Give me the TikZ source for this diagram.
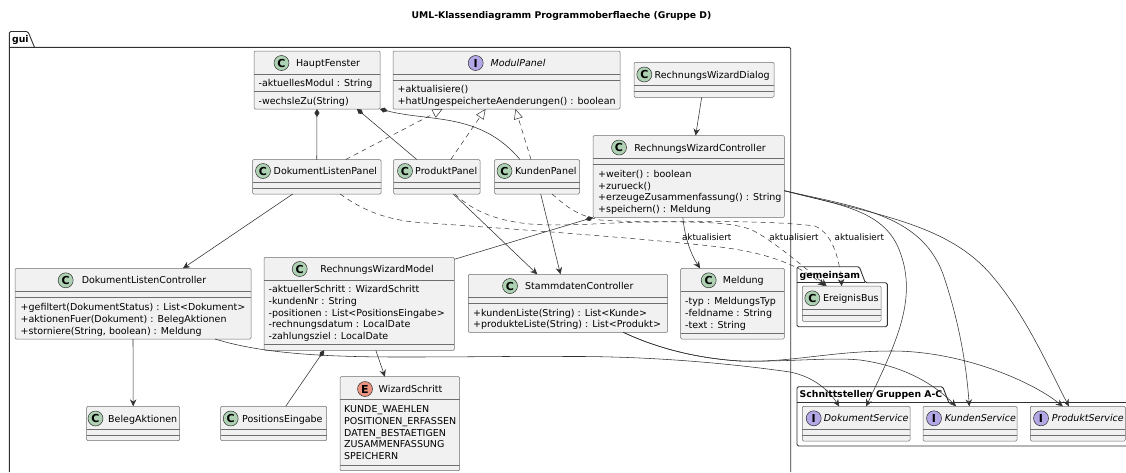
\documentclass[tikz,border=0pt]{standalone}
\usepackage{fontspec}
\setmainfont{DejaVu Sans}
\usetikzlibrary{arrows.meta}
\definecolor{linecol}{HTML}{303030}
\definecolor{boxfill}{HTML}{F1F1F1}
\definecolor{iconc}{HTML}{ADD1B2}
\definecolor{iconi}{HTML}{B4A7E5}
\definecolor{icone}{HTML}{EB937F}
\newcommand{\txtfont}{\fontsize{9.5}{10}\selectfont}
\tikzset{
    classbox/.style={draw=linecol!70, fill=boxfill, line width=.5pt, rounded corners=1.2pt, inner sep=0, outer sep=0, anchor=north west},
    divider/.style={draw=linecol!70, line width=.5pt},
    icon/.style={circle, draw=linecol, line width=.5pt, minimum size=15pt, inner sep=0, font=\fontsize{11}{11}\selectfont\bfseries},
    classname/.style={inner sep=0, text height=8pt, text depth=1pt, font=\txtfont},
    member/.style={classname, anchor=west},
    lefttitle/.style={classname, anchor=west},
    itname/.style={font=\txtfont\itshape},
    pkgline/.style={draw=linecol, line width=.9pt, rounded corners=1.5pt},
    pkgname/.style={inner sep=0, anchor=west, text height=8pt, text depth=2pt, font=\fontsize{9.3}{10}\selectfont\bfseries},
    dep/.style={draw=linecol, line width=.55pt, -{Stealth[length=7pt,width=6.5pt,inset=2.5pt]}},
    comp/.style={draw=linecol, line width=.55pt, {Diamond[length=8pt,width=5pt]}-},
    real/.style={draw=linecol, line width=.5pt, dash pattern=on 5pt off 4pt, -{Triangle[open,length=10pt,width=9pt,fill=white]}},
    use/.style={draw=linecol, line width=.5pt, dash pattern=on 5pt off 4pt, -{Stealth[length=7pt,width=6.5pt,inset=2.5pt]}},
    linklabel/.style={inner sep=0, font=\fontsize{8.8}{9}\selectfont}
}
\newcommand{\umlbox}[7]{%
    \node[classbox, minimum width={(#4-#2)*1pt}, minimum height={(#5-#3)*1pt}] (#1) at (#2,#3) {};
    \draw[divider] (#2,#6) -- (#4,#6);
    \draw[divider] (#2,#7) -- (#4,#7);
}
\begin{document}
\begin{tikzpicture}[x=1pt,y=-1pt]
    \useasboundingbox (0,0) rectangle (1126,472);
    \node[inner sep=0, font=\fontsize{9.25}{10}\selectfont\bfseries] (title) at (561.5,15.5) {UML-Klassendiagramm Programmoberflaeche (Gruppe D)};

    % packages
    \draw[pkgline] (9.3,472) -- (9.3,31.5) -- (28,31.5) -- (34.5,47.3);
    \draw[pkgline] (9.3,47.3) -- (790.7,47.3) -- (790.7,472);
    \node[pkgname] (guiName) at (12,39.5) {gui};
    \draw[pkgline, fill=white] (797,282.7) -- (797,266.7) -- (859.3,266.7) -- (865.3,282.7) -- (887.3,282.7) -- (887.3,326.7) -- (797,326.7) -- cycle;
    \draw[pkgline] (797,282.7) -- (865.3,282.7);
    \node[pkgname] (gemeinsamName) at (799.5,275) {gemeinsam};
    \draw[pkgline] (1126,446) -- (797,446) -- (797,386.7) -- (942.7,386.7) -- (948.7,402.3);
    \draw[pkgline] (797,402.3) -- (1126,402.3);
    \node[pkgname] (schnittName) at (799.5,394.7) {Schnittstellen Gruppen A-C};

    % top row
    \umlbox{haupt}{254}{51}{380}{109}{74}{91.5}
    \node[icon, fill=iconc] (hauptIcon) at (281.5,63) {C};
    \node[classname] (hauptName) at (328,63) {HauptFenster};
    \node[member] (hauptF1) at (258.5,83) {-aktuellesModul : String};
    \node[member] (hauptM1) at (258.5,101) {-wechsleZu(String)};

    \umlbox{modul}{393}{51}{620}{109}{74}{80}
    \node[icon, fill=iconi] (modulIcon) at (475.7,63) {I};
    \node[classname, itname] (modulName) at (518,63) {ModulPanel};
    \node[member] (modulM1) at (397.5,89) {+aktualisiere()};
    \node[member] (modulM2) at (397.5,101) {+hatUngespeicherteAenderungen() : boolean};

    \umlbox{dialog}{634}{62.3}{774}{97.3}{85.3}{91.3}
    \node[icon, fill=iconc] (dialogIcon) at (644.3,74.5) {C};
    \node[lefttitle] (dialogName) at (654.5,74.5) {RechnungsWizardDialog};

    \umlbox{wizctrl}{593}{135.5}{784.3}{217.5}{158.5}{164.5}
    \node[icon, fill=iconc] (wizctrlIcon) at (619,147.5) {C};
    \node[classname] (wizctrlName) at (700,147.5) {RechnungsWizardController};
    \node[member] (wizctrlM1) at (598,173.5) {+weiter() : boolean};
    \node[member] (wizctrlM2) at (598,185.5) {+zurueck()};
    \node[member] (wizctrlM3) at (598,197) {+erzeugeZusammenfassung() : String};
    \node[member] (wizctrlM4) at (598,208.5) {+speichern() : Meldung};

    % panels
    \umlbox{doklist}{252.5}{159.5}{381}{194}{182.5}{188.5}
    \node[icon, fill=iconc] (doklistIcon) at (263,171) {C};
    \node[lefttitle] (doklistName) at (273.5,171) {DokumentListenPanel};

    \umlbox{produkt}{393.5}{159.5}{480}{194}{182.5}{188.5}
    \node[icon, fill=iconc] (produktIcon) at (405,171) {C};
    \node[lefttitle] (produktName) at (415,171) {ProduktPanel};

    \umlbox{kunden}{494.5}{159.5}{579.5}{194}{182.5}{188.5}
    \node[icon, fill=iconc] (kundenIcon) at (504.5,171) {C};
    \node[lefttitle] (kundenName) at (515,171) {KundenPanel};

    % controllers and model
    \umlbox{dokctrl}{15}{268.3}{251}{339}{291.7}{297.7}
    \node[icon, fill=iconc] (dokctrlIcon) at (65.7,280.3) {C};
    \node[classname] (dokctrlName) at (144,280.3) {DokumentListenController};
    \node[member] (dokctrlM1) at (20.5,307) {+gefiltert(DokumentStatus) : List<Dokument>};
    \node[member] (dokctrlM2) at (20.5,318.7) {+aktionenFuer(Dokument) : BelegAktionen};
    \node[member] (dokctrlM3) at (20.5,330.7) {+storniere(String, boolean) : Meldung};

    \umlbox{wizmodel}{264}{257.3}{454.3}{350.3}{280.7}{344.3}
    \node[icon, fill=iconc] (wizmodelIcon) at (299.7,269) {C};
    \node[classname] (wizmodelName) at (377,269) {RechnungsWizardModel};
    \node[member] (wizmodelF1) at (268.5,289.3) {-aktuellerSchritt : WizardSchritt};
    \node[member] (wizmodelF2) at (268.5,301.3) {-kundenNr : String};
    \node[member] (wizmodelF3) at (268.5,312.7) {-positionen : List<PositionsEingabe>};
    \node[member] (wizmodelF4) at (268.5,324.3) {-rechnungsdatum : LocalDate};
    \node[member] (wizmodelF5) at (268.5,336) {-zahlungsziel : LocalDate};

    \umlbox{stamm}{468.3}{274.3}{667.7}{332.3}{297.7}{303.7}
    \node[icon, fill=iconc] (stammIcon) at (510,286) {C};
    \node[classname] (stammName) at (579.3,286) {StammdatenController};
    \node[member] (stammM1) at (473,312.7) {+kundenListe(String) : List<Kunde>};
    \node[member] (stammM2) at (473,324.3) {+produkteListe(String) : List<Produkt>};

    \umlbox{meldung}{680.7}{268.3}{784.3}{339}{291.7}{333.3}
    \node[icon, fill=iconc] (meldungIcon) at (708.7,280.3) {C};
    \node[classname] (meldungName) at (743.3,280.3) {Meldung};
    \node[member] (meldungF1) at (685,301.3) {-typ : MeldungsTyp};
    \node[member] (meldungF2) at (685,312.7) {-feldname : String};
    \node[member] (meldungF3) at (685,324.7) {-text : String};

    \umlbox{schritt}{340}{376.7}{459.7}{470.7}{399.7}{465}
    \node[icon, fill=icone] (schrittIcon) at (365,389) {E};
    \node[classname] (schrittName) at (410.5,389) {WizardSchritt};
    \node[member] (schrittV1) at (344,408.7) {KUNDE\_WAEHLEN};
    \node[member] (schrittV2) at (344,421) {POSITIONEN\_ERFASSEN};
    \node[member] (schrittV3) at (344,432.5) {DATEN\_BESTAETIGEN};
    \node[member] (schrittV4) at (344,444) {ZUSAMMENFASSUNG};
    \node[member] (schrittV5) at (344,455.7) {SPEICHERN};

    \umlbox{beleg}{86.7}{406.3}{179.7}{440.7}{429.7}{435.3}
    \node[icon, fill=iconc] (belegIcon) at (95.5,418.5) {C};
    \node[lefttitle] (belegName) at (108,418.5) {BelegAktionen};

    \umlbox{posein}{220.7}{406.3}{326.7}{440.7}{429.7}{435.3}
    \node[icon, fill=iconc] (poseinIcon) at (230.7,418.5) {C};
    \node[lefttitle] (poseinName) at (242,418.5) {PositionsEingabe};

    % other packages' content
    \umlbox{bus}{802.3}{286}{881}{321.3}{309.3}{315.3}
    \node[icon, fill=iconc] (busIcon) at (812.3,298.3) {C};
    \node[lefttitle] (busName) at (823,298.3) {EreignisBus};

    \umlbox{doksvc}{802.3}{406.3}{910}{441}{429.3}{435.3}
    \node[icon, fill=iconi] (doksvcIcon) at (813.7,418.3) {I};
    \node[lefttitle, itname] (doksvcName) at (823.7,418.3) {DokumentService};

    \umlbox{kunsvc}{923}{406.3}{1017}{441}{429.3}{435.3}
    \node[icon, fill=iconi] (kunsvcIcon) at (934,418.3) {I};
    \node[lefttitle, itname] (kunsvcName) at (944.7,418.3) {KundenService};

    \umlbox{prosvc}{1030.3}{406.3}{1125.3}{441}{429.3}{435.3}
    \node[icon, fill=iconi] (prosvcIcon) at (1041,418.3) {I};
    \node[lefttitle, itname] (prosvcName) at (1051.7,418.3) {ProduktService};

    % links
    \draw[comp] (haupt.south) -- (doklist.north);
    \draw[comp] ([xshift=40pt]haupt.south) -- ([xshift=-20pt]produkt.north);
    \draw[comp] (haupt.south east) .. controls (430,122) and (480,112) .. ([xshift=-17pt]kunden.north);
    \draw[real] ([xshift=29pt]doklist.north) -- ([xshift=-64pt]modul.south);
    \draw[real] ([xshift=14pt]produkt.north) -- ([xshift=-21pt]modul.south);
    \draw[real] ([xshift=-6pt]kunden.north) -- ([xshift=9pt]modul.south);
    \draw[dep] ([xshift=-2.3pt]dialog.south) -- ([xshift=7pt]wizctrl.north);
    \draw[comp] (wizctrl.south west) -- ([yshift=-2pt]wizmodel.north east);
    \draw[dep] ([xshift=-5.8pt]wizctrl.south) .. controls (685,240) and (692,256) .. ([xshift=-32.5pt]meldung.north);
    \draw[dep] ([xshift=3.7pt]kunden.south) -- ([xshift=-7.5pt]stamm.north);
    \draw[dep] ([xshift=16.5pt]produkt.south) -- ([xshift=-30.7pt]stamm.north);
    \draw[dep] ([xshift=-24pt]doklist.south) -- ([xshift=50pt]dokctrl.north);
    \draw[dep] (dokctrl.south) -- (beleg.north);
    \draw[comp] ([xshift=-35pt]wizmodel.south) -- ([xshift=12pt]posein.north);
    \draw[dep] ([xshift=16.7pt]wizmodel.south) -- ([xshift=-15pt]schritt.north);

    \draw[dep] ([xshift=82pt]dokctrl.south) .. controls (260,353) and (320,357) .. (400,357) .. controls (480,357) and (520,356) .. (566,356.5) .. controls (640,356) and (720,362) .. (790,372) .. controls (815,377) and (830,392) .. ([xshift=-17pt]doksvc.north);
    \draw[dep] ([xshift=55.3pt]stamm.south) .. controls (650,345) and (690,358) .. (740,361) .. controls (790,362) and (830,357) .. (860,360) .. controls (905,366) and (935,385) .. ([xshift=-14pt]kunsvc.north);
    \draw[dep] ([xshift=55.3pt]stamm.south) .. controls (650,345) and (690,358) .. (740,361) .. controls (790,363) and (830,351) .. (892,351) .. controls (960,351) and (1030,380) .. ([xshift=-15pt]prosvc.north);

    \draw[dep] ([yshift=-14.2pt]wizctrl.east) .. controls (840,205) and (885,210) .. (900,252) .. controls (918,300) and (895,345) .. ([xshift=10pt]doksvc.north);
    \draw[dep] ([yshift=-14.2pt]wizctrl.east) .. controls (860,208) and (925,215) .. (945,280) .. controls (958,320) and (966,360) .. ([xshift=-.7pt]kunsvc.north);
    \draw[dep] ([yshift=-14.2pt]wizctrl.east) .. controls (880,215) and (950,225) .. (993,277) .. controls (1025,315) and (1045,360) .. ([xshift=-9pt]prosvc.north);

    \draw[use] ([xshift=23.3pt]doklist.south) .. controls (360,208) and (380,218) .. (413,222) .. controls (500,228) and (640,238) .. (720,247) .. controls (760,252) and (795,262) .. ([xshift=-17pt]bus.north);
    \draw[use] ([xshift=18pt]produkt.south) .. controls (470,208) and (490,220) .. (530,224) .. controls (570,227) and (610,222) .. (650,222) .. controls (690,222) and (730,221) .. (752,230) .. controls (768,238) and (790,255) .. ([xshift=-15pt]bus.north);
    \draw[use] ([xshift=15pt]kunden.south) .. controls (565,205) and (575,215) .. (600,220) .. controls (650,224) and (750,218) .. (815,226) .. controls (835,235) and (840,265) .. (bus.north);

    \node[linklabel] (labelDok) at (706.7,237.7) {aktualisiert};
    \node[linklabel] (labelPro) at (794,237.7) {aktualisiert};
    \node[linklabel] (labelKun) at (859.3,237.7) {aktualisiert};
\end{tikzpicture}
\end{document}
